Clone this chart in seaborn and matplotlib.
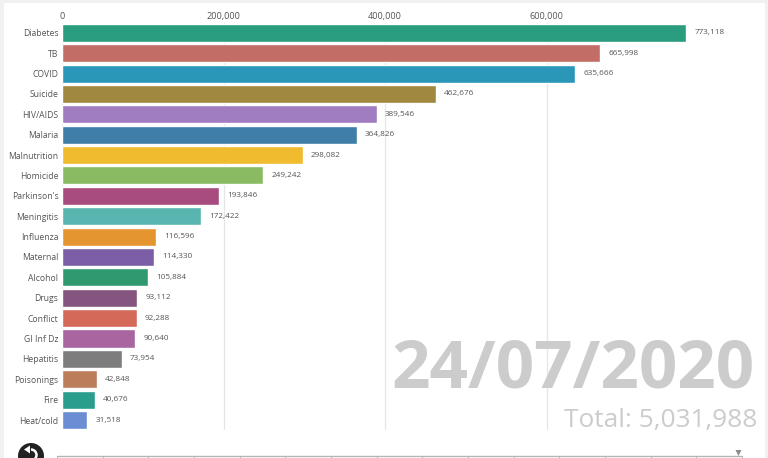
import matplotlib
matplotlib.use("Agg")
import matplotlib.pyplot as plt
from matplotlib.patches import Arc, Circle, Polygon, Rectangle
import numpy as np
import pandas as pd
import seaborn as sns

causes = ["Diabetes", "TB", "COVID", "Suicide", "HIV/AIDS", "Malaria", "Malnutrition",
          "Homicide", "Parkinson's", "Meningitis", "Influenza", "Maternal", "Alcohol",
          "Drugs", "Conflict", "GI Inf Dz", "Hepatitis", "Poisonings", "Fire", "Heat/cold"]
deaths = [773118, 665998, 635666, 462676, 389546, 364826, 298082, 249242, 193846, 172422,
          116596, 114330, 105884, 93112, 92288, 90640, 73954, 42848, 40676, 31518]
colours = ["#2a9d7e", "#c26e66", "#2a97b8", "#a0883f", "#a07cc0", "#3f7ea6", "#f0bb2e",
           "#8abb62", "#a84c80", "#59b5b0", "#e59530", "#7b5ea6", "#2f9a70", "#85557f",
           "#d4695a", "#a9659f", "#7d7d7d", "#bb7d5a", "#2a9d8f", "#6a8dd3"]
x_ticks = [0, 200000, 400000, 600000]
date_label = "24/07/2020"
total_label = "Total: 5,031,988"

W, H = 768, 458
TEXT = "#555555"
sns.set_theme(style="white")
plt.rcParams["font.family"] = ["Open Sans", "DejaVu Sans"]

fig = plt.figure(figsize=(W / 100, H / 100), dpi=100, facecolor="#f1f1f1")

# Page layer in pixel coordinates: white card, replay button and time slider
page = fig.add_axes([0, 0, 1, 1], zorder=0)
page.set_xlim(0, W)
page.set_ylim(H, 0)
page.axis("off")
page.add_patch(Rectangle((4, 3), 761, H, fc="white", ec="none"))

page.add_patch(Circle((31, 456), 13, fc="#222222", ec="none"))
page.add_patch(Arc((31, 455), 11, 11, theta1=-90, theta2=90, ec="white", lw=1.8))
page.add_patch(Polygon([(24, 449.5), (30, 445.5), (30, 453.5)], fc="white", ec="none"))

page.plot([57, 742], [456, 456], color="#b5b5b5", lw=1)
for px in np.linspace(57, 742, 16):
    page.plot([px, px], [456, 458], color="#b5b5b5", lw=0.8)
page.add_patch(Polygon([(735.5, 450), (741.5, 450), (738.5, 456)], fc="#8c8c8c", ec="none"))

# Bar chart axes: x = 0 at pixel 62, 200,000 every 161.5 pixels
left, right, top, bottom = 62, 730, 22.6, 430.2
ax = fig.add_axes([left / W, 1 - bottom / H, (right - left) / W, (bottom - top) / H], zorder=1)
ax.patch.set_alpha(0)
frame = pd.DataFrame({"cause": causes, "deaths": deaths})
sns.barplot(data=frame, x="deaths", y="cause", hue="cause", palette=colours, legend=False,
            saturation=1, width=0.885, ax=ax, zorder=2)
ax.set_xlim(0, (right - left) / 161.5 * 200000)
ax.set_ylim(len(causes) - 0.5, -0.5)
ax.set_xlabel("")
ax.set_ylabel("")
ax.xaxis.tick_top()
ax.set_xticks(x_ticks)
ax.set_xticklabels([f"{t:,}" for t in x_ticks], fontsize=6.6, color=TEXT)
ax.tick_params(axis="x", length=0, pad=1.5)
ax.tick_params(axis="y", length=0, pad=2.6, labelsize=6.2, labelcolor=TEXT)
ax.grid(axis="x", color="#e6e6e6", lw=0.9, zorder=0)
ax.set_axisbelow(True)
sns.despine(ax=ax, left=True, bottom=True, top=True, right=True)
for i, v in enumerate(deaths):
    ax.annotate(f"{v:,}", (v, i), xytext=(6, 0), textcoords="offset points", va="center",
                ha="left", fontsize=5.9, color=TEXT, zorder=4)

# Running date and total sit over the gridlines
page2 = fig.add_axes([0, 0, 1, 1], zorder=2)
page2.set_xlim(0, W)
page2.set_ylim(H, 0)
page2.axis("off")
page2.text(755, 388, date_label, ha="right", va="baseline", fontsize=48.5, fontweight="bold",
           color="#cccccc")
page2.text(757, 427, total_label, ha="right", va="baseline", fontsize=18.9, color="#cccccc")

fig.savefig("out.png", dpi=100, facecolor=fig.get_facecolor())
